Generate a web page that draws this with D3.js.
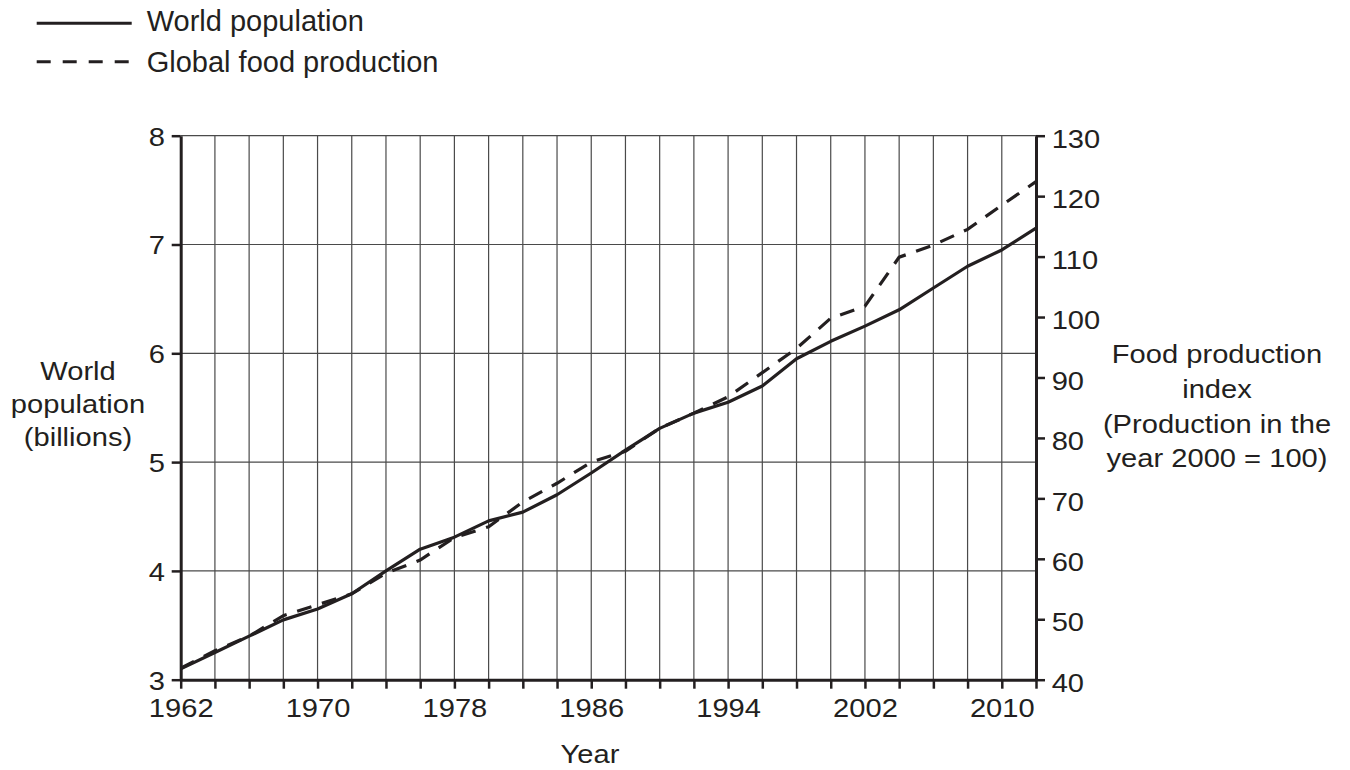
<!DOCTYPE html>
<html><head><meta charset="utf-8">
<script src="https://cdn.jsdelivr.net/npm/d3@7"></script>
<style>
body{margin:0;background:#fff}
text{font-family:"Liberation Sans",Arial,Helvetica,sans-serif;fill:#231f20}
</style>
</head><body>
<svg id="c" width="1350" height="770"></svg>
<script>
const years = [1962,1964,1966,1968,1970,1972,1974,1976,1978,1980,1982,1984,1986,1988,1990,1992,1994,1996,1998,2000,2002,2004,2006,2008,2010,2012];
const population = [3.10,3.25,3.40,3.55,3.65,3.79,4.00,4.20,4.31,4.46,4.54,4.70,4.90,5.11,5.31,5.45,5.55,5.70,5.95,6.11,6.25,6.40,6.60,6.80,6.95,7.15];
const foodIndex = [41.9,44.8,47.2,50.6,52.4,54.2,57.6,59.8,63.5,65.3,69.4,72.5,76.0,77.8,81.6,84.1,86.8,90.8,94.8,99.8,101.8,109.9,111.9,114.5,118.5,122.4];
const yearTickLabels = [1962,1970,1978,1986,1994,2002,2010];
const popTicks = [3,4,5,6,7,8];
const foodTicks = [40,50,60,70,80,90,100,110,120,130];
const seriesNames = ["World population","Global food production"];
const leftTitle = ["World","population","(billions)"];
const rightTitle = ["Food production","index","(Production in the","year 2000 = 100)"];
const xTitle = "Year";

const ink = "#231f20";
const SX = 1.12;
const svg = d3.select("#c");

const x = d3.scaleLinear().domain([1962,2012]).range([180.7,1036]);
const yL = d3.scaleLinear().domain([3,8]).range([679.7,135.7]);
const yR = d3.scaleLinear().domain([40,130]).range([679.7,135.7]);

// grid
const grid = svg.append("g").attr("stroke","#4a4a4a").attr("stroke-width",1.2);
grid.selectAll("line.v").data(years.filter(d=>d>1962 && d<2012)).join("line")
  .attr("x1",d=>x(d)).attr("x2",d=>x(d)).attr("y1",yL(8)).attr("y2",yL(3));
grid.selectAll("line.h").data(popTicks.filter(d=>d>3)).join("line")
  .attr("x1",x(1962)).attr("x2",x(2012)).attr("y1",d=>yL(d)).attr("y2",d=>yL(d));

function styleAxis(g){
  g.select(".domain").attr("stroke",ink).attr("stroke-width",3);
  g.selectAll(".tick line").attr("stroke",ink).attr("stroke-width",2.5);
  g.selectAll(".tick text").attr("font-size",26).attr("fill",ink)
    .attr("font-family","Liberation Sans, Arial, sans-serif");
}

// bottom axis
const gx = svg.append("g").attr("transform",`translate(0,${yL(3)})`)
  .call(d3.axisBottom(x).tickValues(years).tickSize(9).tickSizeOuter(0).tickPadding(10)
    .tickFormat(d=>yearTickLabels.includes(d)?String(d):""));
styleAxis(gx);
gx.selectAll(".tick text").attr("transform",`scale(${SX},1)`);

// left axis
const gl = svg.append("g").attr("transform",`translate(${x(1962)},0)`)
  .call(d3.axisLeft(yL).tickValues(popTicks).tickSize(9).tickSizeOuter(0).tickPadding(5).tickFormat(d3.format("d")));
styleAxis(gl);
gl.selectAll(".tick text").attr("dy","0.36em").attr("transform",`scale(${SX},1)`);

// right axis
const gr = svg.append("g").attr("transform",`translate(${x(2012)},0)`)
  .call(d3.axisRight(yR).tickValues(foodTicks).tickSize(9).tickSizeOuter(0).tickPadding(5).tickFormat(d3.format("d")));
styleAxis(gr);
gr.selectAll(".tick text").attr("dy","0.45em").attr("transform",`scale(${SX},1)`);

// lines
const popLine = d3.line().x((d,i)=>x(years[i])).y(d=>yL(d));
const foodLine = d3.line().x((d,i)=>x(years[i])).y(d=>yR(d));
svg.append("path").datum(foodIndex).attr("d",foodLine).attr("fill","none")
  .attr("stroke",ink).attr("stroke-width",3.2).attr("stroke-dasharray","15,11");
svg.append("path").datum(population).attr("d",popLine).attr("fill","none")
  .attr("stroke",ink).attr("stroke-width",3.2).attr("stroke-linejoin","round");

// legend
const leg = svg.append("g");
leg.append("line").attr("x1",36.7).attr("x2",131.7).attr("y1",23.3).attr("y2",23.3)
  .attr("stroke",ink).attr("stroke-width",3);
leg.append("text").attr("x",146.7).attr("y",31).attr("font-size",29).text(seriesNames[0]);
leg.append("line").attr("x1",36.7).attr("x2",131.7).attr("y1",61.7).attr("y2",61.7)
  .attr("stroke",ink).attr("stroke-width",3).attr("stroke-dasharray","14,12");
leg.append("text").attr("x",146.7).attr("y",71.5).attr("font-size",29).text(seriesNames[1]);

// titles
const lt = [380,413,446];
leftTitle.forEach((t,i)=>{
  svg.append("text").attr("transform",`translate(78,${lt[i]}) scale(${SX},1)`)
    .attr("text-anchor","middle").attr("font-size",26).text(t);
});
const rt = [362.7,397.5,432.5,466.7];
rightTitle.forEach((t,i)=>{
  svg.append("text").attr("transform",`translate(1217,${rt[i]}) scale(${SX},1)`)
    .attr("text-anchor","middle").attr("font-size",26).text(t);
});
svg.append("text").attr("transform",`translate(590,763.3) scale(${SX},1)`)
  .attr("text-anchor","middle").attr("font-size",26).text(xTitle);
</script>
</body></html>
